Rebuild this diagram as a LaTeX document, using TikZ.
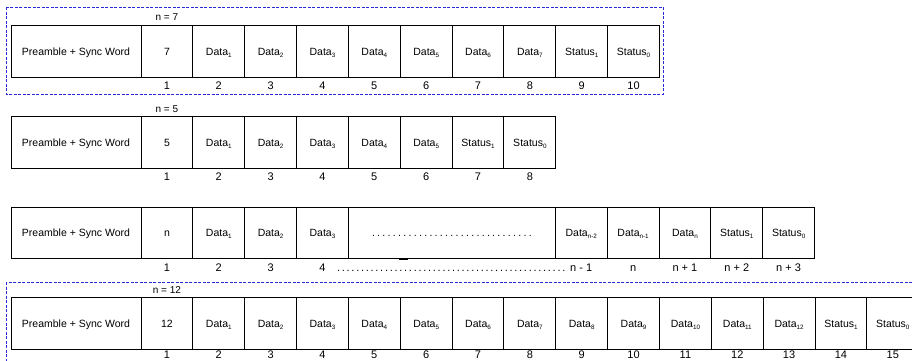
\documentclass[tikz,border=0pt]{standalone}
\usepackage{fontspec}
\setmainfont{Liberation Sans}
\newcommand\ssub[1]{\raisebox{-0.35ex}{\fontsize{6.3}{6.3}\selectfont #1}}
\definecolor{dashblue}{RGB}{40,40,215}
\begin{document}
\begin{tikzpicture}[x=1pt,y=-1pt,
  cell/.style={draw=black, line width=1pt, inner sep=0pt, outer sep=0pt,
    minimum width=51.85pt, minimum height=51.6pt, anchor=north west,
    text height=7.7pt, text depth=0pt, font=\fontsize{10.5}{12}\selectfont},
  num/.style={anchor=base, inner sep=0pt, font=\fontsize{11}{12}\selectfont},
  nlabel/.style={anchor=base, inner sep=0pt, font=\fontsize{10}{12}\selectfont},
  frame/.style={draw=dashblue, line width=0.8pt, dash pattern=on 3pt off 1.5pt}]
\useasboundingbox (0,0) rectangle (912,360);
\clip (0,0) rectangle (912,360);
\fill[white] (0,0) rectangle (912,360);

% ---------- Row 1 (n = 7) ----------
\draw[frame] (6,7) rectangle (663,94);
\node[nlabel] (alab) at (166.9,20) {n = 7};
\node[cell, minimum width=130pt] (ap) at (11,25.9) {Preamble + Sync Word};
\foreach \t [count=\i] in {7,Data\ssub{1},Data\ssub{2},Data\ssub{3},Data\ssub{4},Data\ssub{5},Data\ssub{6},Data\ssub{7},Status\ssub{1},Status\ssub{0}} {
  \node[cell] (a\i) at ({141+51.85*(\i-1)},25.9) {\t};
  \node[num] (an\i) at ({166.9+51.85*(\i-1)},89.3) {\i};
}

% ---------- Row 2 (n = 5) ----------
\node[nlabel] (blab) at (166.9,112) {n = 5};
\node[cell, minimum width=130pt] (bp) at (11,116.7) {Preamble + Sync Word};
\foreach \t [count=\i] in {5,Data\ssub{1},Data\ssub{2},Data\ssub{3},Data\ssub{4},Data\ssub{5},Status\ssub{1},Status\ssub{0}} {
  \node[cell] (b\i) at ({141+51.85*(\i-1)},116.7) {\t};
  \node[num] (bn\i) at ({166.9+51.85*(\i-1)},180) {\i};
}

% ---------- Row 3 (general n) ----------
\node[cell, minimum width=130pt] (cp) at (11,207) {Preamble + Sync Word};
\foreach \t [count=\i] in {n,Data\ssub{1},Data\ssub{2},Data\ssub{3}} {
  \node[cell] (c\i) at ({141+51.85*(\i-1)},207) {\t};
  \node[num] (cn\i) at ({166.9+51.85*(\i-1)},271) {\i};
}
\node[cell, minimum width=206.9pt] (cdots) at (348.4,207)
  {\hbox to 162pt{\xleaders\hbox to 5.2pt{\hss.\hss}\hfill}};
\foreach \t/\n [count=\i] in {Data\ssub{n-2}/n - 1,Data\ssub{n-1}/n,Data\ssub{n}/n + 1,Status\ssub{1}/n + 2,Status\ssub{0}/n + 3} {
  \node[cell] (d\i) at ({555.3+51.85*(\i-1)},207) {\t};
  \node[num] (dn\i) at ({581.2+51.85*(\i-1)},271) {\n};
}
\node[anchor=base west, inner sep=0pt, font=\fontsize{11}{12}\selectfont] (cdl) at (336,271)
  {\hbox to 230pt{\xleaders\hbox to 4.7pt{\hss.\hss}\hfill}};
\draw[line width=2.2pt] (399,258.6) -- (408,258.6);

% ---------- Row 4 (n = 12) ----------
\draw[frame] (6,282) rectangle (960,420);
\node[nlabel] (elab) at (166.9,293.5) {n = 12};
\node[cell, minimum width=130pt] (ep) at (11,297.6) {Preamble + Sync Word};
\foreach \t [count=\i] in {12,Data\ssub{1},Data\ssub{2},Data\ssub{3},Data\ssub{4},Data\ssub{5},Data\ssub{6},Data\ssub{7},Data\ssub{8},Data\ssub{9},Data\ssub{10},Data\ssub{11},Data\ssub{12},Status\ssub{1},Status\ssub{0}} {
  \node[cell] (e\i) at ({141+51.85*(\i-1)},297.6) {\t};
  \node[num] (en\i) at ({166.9+51.85*(\i-1)},358.4) {\i};
}
\end{tikzpicture}
\end{document}
